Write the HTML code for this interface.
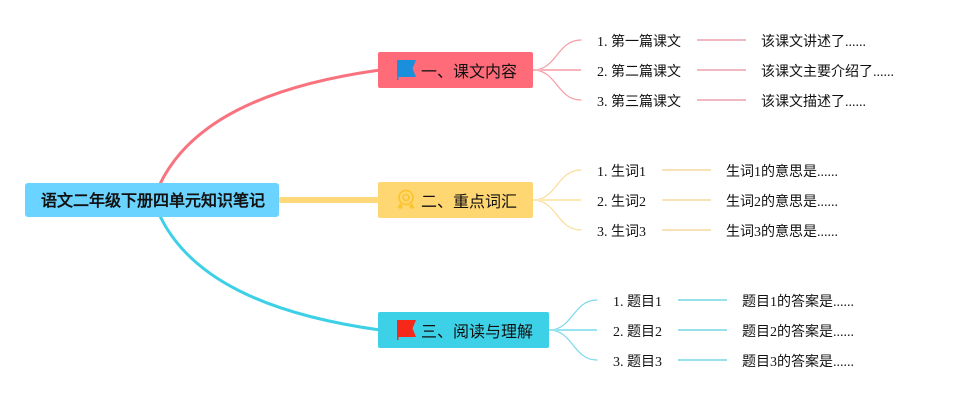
<!DOCTYPE html>
<html><head><meta charset="utf-8">
<style>
html,body{margin:0;padding:0;background:#fff;width:954px;height:400px;overflow:hidden}
svg{display:block}
text{font-family:"Liberation Serif","WenQuanYi Zen Hei",serif;fill:#111}
.t{font-size:14px}
.b{font-size:16px}
.r{font-size:16px;font-weight:bold}
</style></head>
<body>
<svg width="954" height="400" viewBox="0 0 954 400" xmlns="http://www.w3.org/2000/svg">
<g fill="none" stroke-linecap="round">
<path d="M160 184C190 122 265 86 380 70" stroke="#f9737f" stroke-width="3"/>
<path d="M160 216C190 278 265 314 380 330" stroke="#3dd0e6" stroke-width="3"/>
<path d="M279 200H379" stroke="#ffd87a" stroke-width="6" stroke-linecap="butt"/>

<g stroke="#f59aa4" stroke-width="1.2">
<path d="M533 70C557 70 557 40 581 40"/>
<path d="M533 70C557 70 557 100 581 100"/>
</g>
<path d="M533 70H581" stroke="#f8b4bb" stroke-width="2" stroke-linecap="butt" fill="none"/>
<g stroke="#f0b8c0" stroke-width="2" stroke-linecap="butt">
<path d="M697 40H746"/><path d="M697 70H746"/><path d="M697 100H746"/>
</g>

<g stroke="#fbdc98" stroke-width="1.2">
<path d="M533 200C557 200 557 170 581 170"/>
<path d="M533 200C557 200 557 230 581 230"/>
</g>
<path d="M533 200H581" stroke="#fde8b8" stroke-width="2" stroke-linecap="butt" fill="none"/>
<g stroke="#fae2b8" stroke-width="2" stroke-linecap="butt">
<path d="M662 170H711"/><path d="M662 200H711"/><path d="M662 230H711"/>
</g>

<g stroke="#78d9ea" stroke-width="1.2">
<path d="M549 330C573 330 573 300 597 300"/>
<path d="M549 330C573 330 573 360 597 360"/>
</g>
<path d="M549 330H597" stroke="#98e4f0" stroke-width="2" stroke-linecap="butt" fill="none"/>
<g stroke="#98e0ec" stroke-width="2" stroke-linecap="butt">
<path d="M678 300H727"/><path d="M678 330H727"/><path d="M678 360H727"/>
</g>
</g>

<rect x="25" y="183" width="254" height="34" rx="3" fill="#6ad3ff"/>
<rect x="378" y="52" width="155" height="36" rx="2" fill="#ff6b78"/>
<rect x="378" y="182" width="155" height="36" rx="2" fill="#ffd772"/>
<rect x="378" y="312" width="171" height="36" rx="2" fill="#3dd1e8"/>

<!-- icons -->
<path d="M397 60H416L412.500 68.500L416 77H398.500V80H397Z" fill="#1a90dc"/>
<path d="M397 320H416L412.500 328.500L416 337H398.500V340H397Z" fill="#f5281a"/>
<g fill="none" stroke="#fbc531" stroke-width="1.800">
<circle cx="406" cy="197.500" r="7"/>
<circle cx="406" cy="197.500" r="3"/>
</g>
<path d="M400 203L397.500 208L401 209L403 206.500Z" fill="#fbc531"/>
<path d="M412 203L414.500 208L411 209L409 206.500Z" fill="#fbc531"/>

<text class="r" x="41" y="206">语文二年级下册四单元知识笔记</text>
<text class="b" x="421" y="77">一、课文内容</text>
<text class="b" x="421" y="207">二、重点词汇</text>
<text class="b" x="421" y="337">三、阅读与理解</text>

<text class="t" x="597" y="46">1. 第一篇课文</text>
<text class="t" x="597" y="76">2. 第二篇课文</text>
<text class="t" x="597" y="106">3. 第三篇课文</text>
<text class="t" x="761" y="46">该课文讲述了......</text>
<text class="t" x="761" y="76">该课文主要介绍了......</text>
<text class="t" x="761" y="106">该课文描述了......</text>

<text class="t" x="597" y="176">1. 生词1</text>
<text class="t" x="597" y="206">2. 生词2</text>
<text class="t" x="597" y="236">3. 生词3</text>
<text class="t" x="726" y="176">生词1的意思是......</text>
<text class="t" x="726" y="206">生词2的意思是......</text>
<text class="t" x="726" y="236">生词3的意思是......</text>

<text class="t" x="613" y="306">1. 题目1</text>
<text class="t" x="613" y="336">2. 题目2</text>
<text class="t" x="613" y="366">3. 题目3</text>
<text class="t" x="742" y="306">题目1的答案是......</text>
<text class="t" x="742" y="336">题目2的答案是......</text>
<text class="t" x="742" y="366">题目3的答案是......</text>
</svg>
</body></html>
